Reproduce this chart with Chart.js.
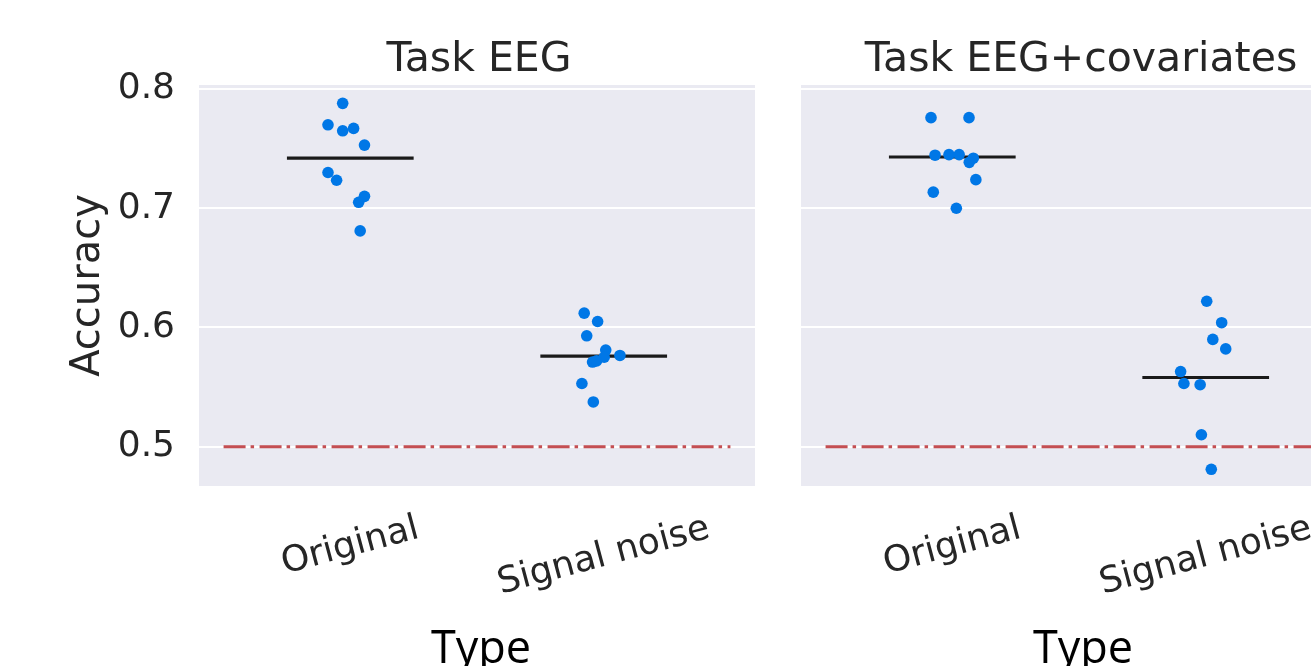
<!DOCTYPE html>
<html>
<head>
<meta charset="utf-8">
<script src="https://cdn.jsdelivr.net/npm/chart.js@4.4.0/dist/chart.umd.min.js"></script>
<style>
body { margin: 0; width: 1311px; height: 666px; overflow: hidden; background: #fff; position: relative; }
canvas { position: absolute; top: 0; }
</style>
</head>
<body>
<canvas id="eeg" width="780" height="666" style="left:0px"></canvas>
<canvas id="eegcov" width="600" height="666" style="left:780px"></canvas>
<script>
var categories = ['Original', 'Signal noise'];
var yTicks = [0.5, 0.6, 0.7, 0.8];
var chanceLevel = 0.5;

// Task EEG
var eegOriginal = [0.788, 0.770, 0.765, 0.767, 0.753, 0.730, 0.7235, 0.710, 0.705, 0.681];
var eegOriginalJitter = [-0.030, -0.088, -0.030, 0.013, 0.056, -0.088, -0.054, 0.056, 0.033, 0.039];
var eegNoise = [0.612, 0.605, 0.593, 0.581, 0.5765, 0.575, 0.571, 0.572, 0.553, 0.5375];
var eegNoiseJitter = [-0.077, -0.024, -0.067, 0.008, 0.064, 0.002, -0.044, -0.028, -0.086, -0.041];
var eegMedians = [0.742, 0.576];

// Task EEG+covariates
var covOriginal = [0.776, 0.776, 0.7445, 0.745, 0.745, 0.742, 0.7385, 0.724, 0.7135, 0.700];
var covOriginalJitter = [-0.084, 0.066, -0.068, -0.013, 0.027, 0.083, 0.067, 0.093, -0.075, 0.016];
var covNoise = [0.622, 0.604, 0.590, 0.582, 0.563, 0.553, 0.552, 0.510, 0.481];
var covNoiseJitter = [0.004, 0.063, 0.028, 0.079, -0.099, -0.086, -0.022, -0.017, 0.022];
var covMedians = [0.743, 0.558];

var TEXT = '#262626';
var FONT = "'DejaVu Sans'";

var panelText = {
  id: 'panelText',
  beforeDraw: function(chart) {
    var a = chart.chartArea, ctx = chart.ctx;
    ctx.save();
    ctx.fillStyle = '#eaeaf2';
    ctx.fillRect(a.left, a.top, a.right - a.left, a.bottom - a.top);
    ctx.restore();
  },
  afterDraw: function(chart, args, o) {
    var a = chart.chartArea, ctx = chart.ctx, xs = chart.scales.x;
    var cx = (a.left + a.right) / 2;
    ctx.save();
    ctx.fillStyle = TEXT;
    ctx.font = '41px ' + FONT;
    ctx.textAlign = 'center';
    ctx.textBaseline = 'alphabetic';
    ctx.fillText(o.title, cx + 2, 71);

    // rotated category labels, centred on their category
    var rot = 15 * Math.PI / 180;
    ctx.font = '36px ' + FONT;
    categories.forEach(function(c, i) {
      var w = ctx.measureText(c).width, h = 42;
      var bh = w * Math.sin(rot) + h * Math.cos(rot);
      ctx.save();
      ctx.translate(xs.getPixelForValue(i), a.bottom + 22 + bh / 2);
      ctx.rotate(-rot);
      ctx.textBaseline = 'middle';
      ctx.fillText(c, 0, 0);
      ctx.restore();
    });

    ctx.fillStyle = '#000';
    ctx.font = "45px 'Open Sans'";
    ctx.fillText('Type', cx + 4, 663);

    if (o.yTitle) {
      ctx.fillStyle = TEXT;
      ctx.font = '40px ' + FONT;
      ctx.translate(99, (a.top + a.bottom) / 2);
      ctx.rotate(-Math.PI / 2);
      ctx.fillText(o.yTitle, 0, 0);
    }
    ctx.restore();
  }
};

function makePanel(id, title, vals, jitters, medians, showY, yWidth, padRight) {
  var points = [];
  vals.forEach(function(v, i) {
    v.forEach(function(y, j) { points.push({ x: i + jitters[i][j], y: y }); });
  });
  var datasets = [{
    type: 'scatter', data: points, backgroundColor: '#0077e6',
    pointRadius: 5.8, pointHoverRadius: 5.8, borderWidth: 0, order: 0
  }];
  medians.forEach(function(m, i) {
    datasets.push({
      type: 'line', data: [{ x: i - 0.25, y: m }, { x: i + 0.25, y: m }],
      borderColor: '#1a1a1a', borderWidth: 3.2, pointRadius: 0, order: 1
    });
  });
  datasets.push({
    type: 'line', data: [{ x: -0.5, y: chanceLevel }, { x: 1.5, y: chanceLevel }],
    borderColor: '#c44e52', borderWidth: 3, borderDash: [22, 5, 3.5, 5.5],
    pointRadius: 0, order: 2
  });

  return new Chart(document.getElementById(id), {
    data: { datasets: datasets },
    options: {
      responsive: false,
      animation: false,
      devicePixelRatio: 1,
      layout: { padding: { left: 0, right: padRight, top: 85, bottom: 180 } },
      plugins: {
        legend: { display: false },
        tooltip: { enabled: false },
        panelText: { title: title, yTitle: showY ? 'Accuracy' : null }
      },
      scales: {
        x: { type: 'linear', min: -0.597, max: 1.597, display: false },
        y: {
          type: 'linear', min: 0.467, max: 0.8034,
          afterBuildTicks: function(s) { s.ticks = yTicks.map(function(v) { return { value: v }; }); },
          afterFit: function(s) { s.width = yWidth; },
          grid: { color: '#ffffff', lineWidth: 2, drawTicks: false },
          border: { display: false },
          ticks: {
            display: showY, padding: 24, color: TEXT,
            font: { family: 'DejaVu Sans', size: 36 },
            callback: function(v) { return v.toFixed(1); }
          }
        }
      }
    },
    plugins: [panelText]
  });
}

makePanel('eeg', 'Task EEG', [eegOriginal, eegNoise],
  [eegOriginalJitter, eegNoiseJitter], eegMedians, true, 199, 25);
makePanel('eegcov', 'Task EEG+covariates', [covOriginal, covNoise],
  [covOriginalJitter, covNoiseJitter], covMedians, false, 21, 23);
</script>
</body>
</html>
